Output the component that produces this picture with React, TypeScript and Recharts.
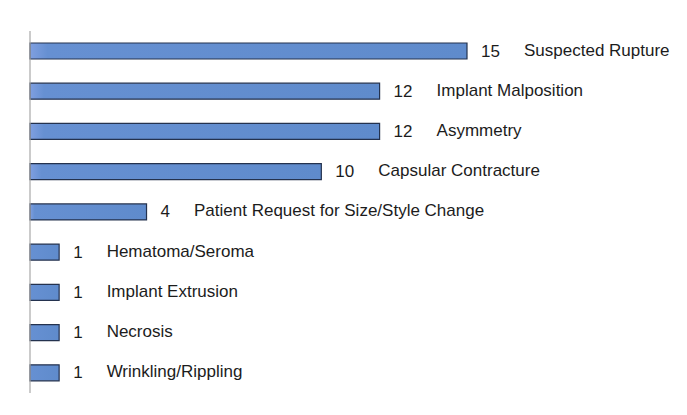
import React from "react";
import { BarChart, Bar, XAxis, YAxis, LabelList, ReferenceLine } from "recharts";

// --- Data ---
const reasons = [
  "Suspected Rupture",
  "Implant Malposition",
  "Asymmetry",
  "Capsular Contracture",
  "Patient Request for Size/Style Change",
  "Hematoma/Seroma",
  "Implant Extrusion",
  "Necrosis",
  "Wrinkling/Rippling",
];
const counts = [15, 12, 12, 10, 4, 1, 1, 1, 1];

const data = reasons.map((name, i) => ({ name, count: counts[i] }));

const FONT = "'Liberation Sans', Arial, sans-serif";

// value first, then the category name to its right
const BarEndLabel = (props: any) => {
  const { x, y, width, height, index } = props;
  const cy = y + height / 2;
  const vx = x + width + 14;
  const val = String(counts[index]);
  const nx = vx + val.length * 9.5 + 24;
  return (
    <g fontFamily={FONT} fontSize={17} fill="#1c1c1c">
      <text x={vx} y={cy} dominantBaseline="central">
        {val}
      </text>
      <text x={nx} y={cy - 1} dominantBaseline="central">
        {reasons[index]}
      </text>
    </g>
  );
};

export default function App() {
  return (
    <div style={{ position: "absolute", left: 0, top: 0, background: "#fff" }}>
      <BarChart
        width={687}
        height={415}
        data={data}
        layout="vertical"
        margin={{ top: 31, right: 220, bottom: 22, left: 30 }}
      >
        <defs>
          <linearGradient id="barFill" x1="0" y1="0" x2="1" y2="0">
            <stop offset="0" stopColor="#7f9fe0" />
            <stop offset="0.04" stopColor="#6690d2" />
            <stop offset="1" stopColor="#5f8bcc" />
          </linearGradient>
        </defs>
        <XAxis type="number" domain={[0, 15]} hide />
        <YAxis type="category" dataKey="name" hide />
        <ReferenceLine x={0} stroke="#a8a8a8" strokeWidth={1.2} />
        <Bar
          dataKey="count"
          barSize={16}
          fill="url(#barFill)"
          stroke="#24324e"
          strokeWidth={1.2}
          isAnimationActive={false}
        >
          <LabelList dataKey="count" content={BarEndLabel} />
        </Bar>
      </BarChart>
    </div>
  );
}
